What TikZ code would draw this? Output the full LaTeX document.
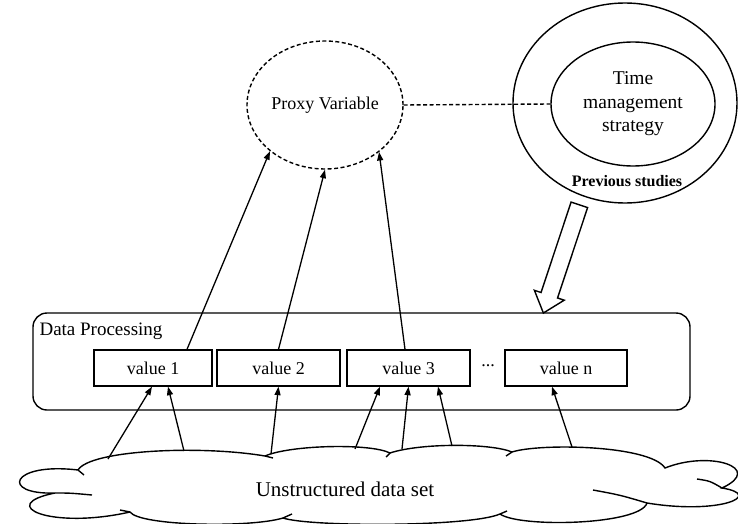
\documentclass[tikz,border=0pt]{standalone}
\usepackage{fontspec}
\setmainfont{Liberation Serif}
\usetikzlibrary{arrows.meta,shapes.geometric,shapes.arrows,calc}
\begin{document}
\begin{tikzpicture}[x=1pt,y=1pt,
  every node/.style={font=\fontsize{18}{23}\selectfont},
  lw/.style={line width=1.4pt},
  dashline/.style={line width=1.4pt,dash pattern=on 4pt off 2.5pt},
  arr/.style={line width=1.3pt,-{Triangle[length=8.5pt,width=6pt]}},
  valbox/.style={draw,line width=1.3pt,minimum height=36pt,inner sep=0pt}]
\useasboundingbox (0,0) rectangle (738,-524);

% top nodes
\node[ellipse,draw,dashline,minimum width=156pt,minimum height=128pt,inner sep=0pt] (proxy) at (325,-105) {Proxy Variable};
\node[ellipse,draw,lw,minimum width=224pt,minimum height=200pt,inner sep=0pt] (outer) at (625,-103) {};
\node[ellipse,draw,lw,minimum width=164pt,minimum height=124pt,inner sep=0pt,align=center,font=\fontsize{19.5}{23.5}\selectfont] (inner) at (633,-104) {Time\\management\\strategy};
\node[font=\bfseries\fontsize{16}{18}\selectfont] (prev) at (627,-181) {Previous studies};
\draw[dashline] (proxy.east) -- (inner.west);

% hollow arrow
\node[single arrow,draw,lw,inner sep=8pt,single arrow head extend=7pt,single arrow tip angle=80,minimum height=114pt,rotate=251.6] (hollow) at (563,-254) {};

% data processing
\node[draw,lw,rounded corners=14pt,minimum width=657pt,minimum height=97pt] (dp) at (361.5,-361.5) {};
\node[anchor=west,font=\fontsize{19}{23}\selectfont] (dplabel) at (36,-331) {Data Processing};
\node[valbox,minimum width=118pt] (v1) at (153,-368) {value 1};
\node[valbox,minimum width=123pt] (v2) at (278.5,-368) {value 2};
\node[valbox,minimum width=123pt] (v3) at (408.5,-368) {value 3};
\node (dots) at (488,-366) {...};
\node[valbox,minimum width=122pt] (vn) at (566,-368) {value n};

% arrows to proxy
\draw[arr] ([xshift=34pt]v1.north) -- (proxy.220);
\draw[arr] (v2.north) -- (proxy.south);
\draw[arr] ([xshift=-3.5pt]v3.north) -- (proxy.319);

% cloud
\draw[lw] (78,-470) .. controls (90,-450) and (200,-445) .. (265,-456)
 .. controls (290,-445) and (370,-443) .. (390,-453)
 .. controls (420,-443) and (490,-443) .. (512,-452)
 .. controls (540,-443) and (650,-445) .. (665,-468)
 .. controls (710,-450) and (765,-468) .. (722,-488)
 .. controls (765,-495) and (720,-515) .. (647,-503)
 .. controls (640,-525) and (520,-528) .. (500,-514)
 .. controls (470,-527) and (310,-527) .. (283,-518)
 .. controls (250,-528) and (140,-526) .. (130,-512)
 .. controls (50,-530) and (-5,-505) .. (55,-493)
 .. controls (0,-495) and (10,-462) .. (78,-470) -- cycle;
% inner tails of the cloud
\draw[lw] (78,-470) -- (84,-475);
\draw[lw] (55,-493) .. controls (70,-493) .. (92,-495);
\draw[lw] (130,-512) -- (120,-510);
\draw[lw] (283,-518) -- (292,-514);
\draw[lw] (500,-514) -- (507,-511);
\draw[lw] (647,-503) .. controls (620,-495) .. (593,-490);
\draw[lw] (722,-488) .. controls (710,-481) .. (697,-479);
\draw[lw] (265,-456) -- (273,-458);
\draw[lw] (390,-453) -- (386,-457);
\draw[lw] (512,-452) -- (506,-456);
\node[font=\fontsize{21}{25}\selectfont] (cloudtext) at (345,-489) {Unstructured data set};

% arrows from cloud
\coordinate (c1) at (108,-459);
\coordinate (c2) at (184,-451);
\coordinate (c3) at (271,-454);
\coordinate (c4) at (355,-449);
\coordinate (c5) at (402,-449);
\coordinate (c6) at (452,-446);
\coordinate (c7) at (572,-447);
\draw[arr] (c1) -- ([xshift=-1pt]v1.south);
\draw[arr] (c2) -- ([xshift=15pt]v1.south);
\draw[arr] (c3) -- (v2.south);
\draw[arr] (c4) -- ([xshift=-28.5pt]v3.south);
\draw[arr] (c5) -- (v3.south);
\draw[arr] (c6) -- ([xshift=29.5pt]v3.south);
\draw[arr] (c7) -- ([xshift=-14pt]vn.south);
\end{tikzpicture}
\end{document}
